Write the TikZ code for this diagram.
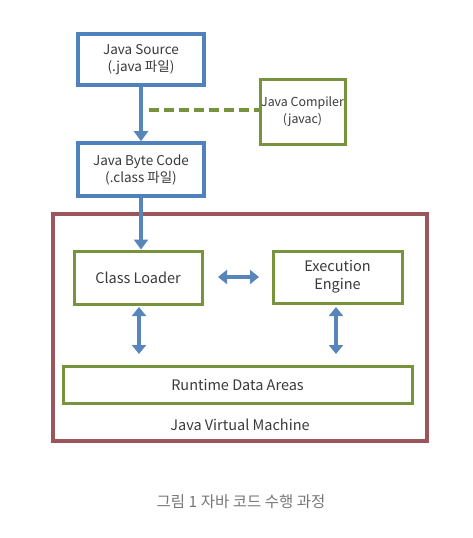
\documentclass[tikz,border=0pt]{standalone}
\usepackage{fontspec}
\setmainfont{Noto Sans CJK KR}
\usetikzlibrary{arrows.meta}
\definecolor{bblue}{HTML}{4F81BD}
\definecolor{ablue}{HTML}{5886BA}
\definecolor{ggreen}{HTML}{77933C}
\definecolor{rred}{HTML}{9B565B}
\definecolor{txt}{HTML}{3A3A3A}
\definecolor{cap}{HTML}{777777}
\tikzset{
  bluebox/.style={draw=bblue, line width=3.6pt, fill=white, text=txt, font=\fontsize{13.5}{17}\selectfont, align=center, inner sep=0pt},
  greenbox/.style={draw=ggreen, line width=3pt, fill=white, text=txt, font=\fontsize{14.5}{18}\selectfont, align=center, inner sep=0pt},
  jvmbox/.style={draw=rred, line width=3.6pt, inner sep=0pt},
  flow/.style={draw=ablue, line width=4.5pt, -{Triangle[width=14pt,length=10pt]}},
  both/.style={draw=ablue, line width=4.5pt, {Triangle[width=14pt,length=9pt]}-{Triangle[width=14pt,length=9pt]}},
  link/.style={draw=ggreen, line width=3.5pt, dash pattern=on 10pt off 5pt}
}
\begin{document}
\begin{tikzpicture}[x=1pt,y=-1pt]
\useasboundingbox (0,0) rectangle (473,538);
\node[jvmbox, minimum width=374pt, minimum height=227pt] (jvm) at (240,327.5) {};
\node[bluebox, minimum width=126pt, minimum height=51pt] (src) at (141,59.5) {Java Source\\(.java 파일)};
\node[bluebox, minimum width=126pt, minimum height=53pt] (byte) at (141,169.5) {Java Byte Code\\(.class 파일)};
\node[greenbox, minimum width=85pt, minimum height=65pt, font=\fontsize{12.4}{17}\selectfont] (comp) at (302.5,111.5) {Java Compiler\\(javac)};
\node[greenbox, minimum width=128pt, minimum height=53pt] (cl) at (138,277.5) {Class Loader};
\node[greenbox, minimum width=129pt, minimum height=52pt] (ee) at (337.5,277) {Execution\\Engine};
\node[greenbox, minimum width=349pt, minimum height=37pt] (rda) at (237.5,384.5) {Runtime Data Areas};
\node[text=txt, font=\fontsize{14.5}{17}\selectfont] (jvmlabel) at (240,425) {Java Virtual Machine};
\node[text=cap, font=\fontsize{15.5}{18}\selectfont] (caption) at (241,502) {그림 1 자바 코드 수행 과정};
\coordinate (d0) at (149,110);
\draw[link] (d0) -- (d0 -| comp.west);
\draw[flow] (src.south) -- (byte.north);
\draw[flow] (byte.south) -- (byte.south |- cl.north);
\coordinate (h1) at (218,277);
\coordinate (h2) at (259,277);
\draw[both] (h1) -- (h2);
\coordinate (v1) at (139,307);
\coordinate (v2) at (139,354);
\draw[both] (v1) -- (v2);
\coordinate (w1) at (336,307);
\coordinate (w2) at (336,354);
\draw[both] (w1) -- (w2);
\end{tikzpicture}
\end{document}
